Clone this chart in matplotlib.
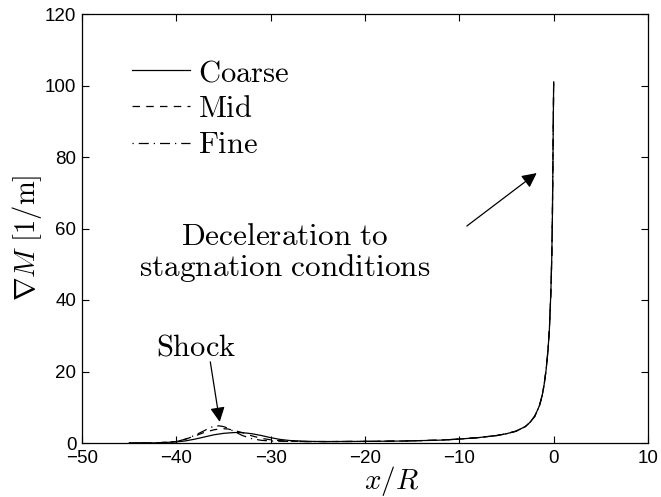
import matplotlib
matplotlib.use("Agg")
import matplotlib.pyplot as plt

plt.rcParams['mathtext.fontset'] = 'cm'
plt.rcParams['font.family'] = ['Liberation Sans', 'DejaVu Sans']

# Coarse grid
x_coarse = [-45, -42, -40, -39, -38, -37, -36, -35, -34, -33.5, -33, -32, -31, -30, -29, -28, -26, -24,
            -20, -16, -12, -10, -8, -6, -5, -4, -3, -2.5, -2, -1.5, -1.2, -1.0, -0.8, -0.6,
            -0.45, -0.3, -0.2, -0.14, -0.08, -0.04, 0.0]
y_coarse = [0.0, 0.05, 0.3, 0.6, 1.1, 1.7, 2.3, 2.7, 2.9, 2.95, 2.9, 2.6, 2.1, 1.5, 1.0, 0.7, 0.45, 0.4,
            0.45, 0.55, 0.8, 1.1, 1.5, 2.1, 2.6, 3.3, 4.6, 5.8, 7.5, 10.5, 13.5, 16.5, 20.5, 26,
            32, 42, 52, 62, 78, 90, 101]

# Mid grid
x_mid = [-45, -42, -40, -39, -38, -37, -36, -35.5, -35, -34.5, -34, -33, -32, -31, -30, -29, -28, -26, -24,
         -20, -16, -12, -10, -8, -6, -5, -4, -3, -2.5, -2, -1.5, -1.2, -1.0, -0.8, -0.6,
         -0.45, -0.3, -0.2, -0.14, -0.08, -0.04, 0.0]
y_mid = [0.0, 0.05, 0.4, 1.1, 2.0, 3.0, 3.7, 3.9, 4.0, 3.9, 3.6, 2.9, 2.0, 1.3, 0.9, 0.65, 0.5, 0.4, 0.4,
         0.45, 0.55, 0.8, 1.1, 1.5, 2.1, 2.6, 3.3, 4.6, 5.8, 7.5, 10.5, 13.5, 16.5, 20.5, 26,
         32, 42, 52, 62, 78, 90, 101]

# Fine grid
x_fine = [-45, -42, -40, -39, -38, -37, -36.5, -36, -35.5, -35, -34.5, -34, -33, -32, -31, -30, -28, -26, -24,
          -20, -16, -12, -10, -8, -6, -5, -4, -3, -2.5, -2, -1.5, -1.2, -1.0, -0.8, -0.6,
          -0.45, -0.3, -0.2, -0.14, -0.08, -0.04, 0.0]
y_fine = [0.0, 0.05, 0.4, 1.1, 2.2, 3.5, 4.2, 4.7, 4.8, 4.6, 4.1, 3.4, 2.1, 1.2, 0.75, 0.55, 0.45, 0.4, 0.4,
          0.45, 0.55, 0.8, 1.1, 1.5, 2.1, 2.6, 3.3, 4.6, 5.8, 7.5, 10.5, 13.5, 16.5, 20.5, 26,
          32, 42, 52, 62, 78, 90, 101]

labels = ['Coarse', 'Mid', 'Fine']
xticks = [-50, -40, -30, -20, -10, 0, 10]
yticks = [0, 20, 40, 60, 80, 100, 120]

W, H = 661, 497
fig = plt.figure(figsize=(6.61, 4.97), dpi=100)
ax = fig.add_axes([82/W, 1 - 443/H, (648-82)/W, (443-14)/H])

lw = 0.9
ax.plot(x_coarse, y_coarse, color='black', lw=lw, linestyle='-', label=r'$\mathrm{' + labels[0] + '}$')
ax.plot(x_mid, y_mid, color='black', lw=lw, linestyle=(0, (6, 5)), label=r'$\mathrm{' + labels[1] + '}$')
ax.plot(x_fine, y_fine, color='black', lw=lw, linestyle=(0, (1, 4, 8, 4)), label=r'$\mathrm{' + labels[2] + '}$')

ax.set_xlim(-50, 10)
ax.set_ylim(0, 120)
ax.set_xticks(xticks)
ax.set_yticks(yticks)
ax.set_xticklabels(['\u2212' + str(-t) if t < 0 else str(t) for t in xticks])
ax.tick_params(direction='in', top=True, right=True, labelsize=13.5, length=5, width=0.8)
ax.tick_params(axis='x', pad=5)
ax.tick_params(axis='y', pad=4)
for s in ax.spines.values():
    s.set_linewidth(0.9)

ax.set_xlabel(r'$x/R$', fontsize=21)
ax.xaxis.set_label_coords((392-82)/566, -(464-443)/429)
ax.set_ylabel(r'$\nabla M\ [\mathrm{1/m}]$', fontsize=20.5)
ax.yaxis.set_label_coords(-(82-44)/566, (443-238)/429)

leg = ax.legend(loc='upper left', bbox_to_anchor=(132/W, 1 - 58/H), bbox_transform=fig.transFigure,
                frameon=False, fontsize=22, handlelength=1.9, handletextpad=0.26, labelspacing=0.2,
                borderaxespad=0, borderpad=0)

ax.annotate('', xy=(-1.8, 75.5), xytext=(-9.2, 60.7),
            arrowprops=dict(arrowstyle='-|>', color='black', lw=0.9, mutation_scale=22, shrinkA=0, shrinkB=0))
ax.text(-28.5, 55.5, r'$\mathrm{Deceleration\ to}$', fontsize=22.5, ha='center', va='baseline')
ax.text(-28.5, 46.6, r'$\mathrm{stagnation\ conditions}$', fontsize=22.5, ha='center', va='baseline')

ax.annotate('', xy=(-35.4, 5.9), xytext=(-36.4, 22.7),
            arrowprops=dict(arrowstyle='-|>', color='black', lw=0.9, mutation_scale=22, shrinkA=0, shrinkB=0))
ax.text(-37.9, 24.6, r'$\mathrm{Shock}$', fontsize=22, ha='center', va='baseline')

fig.savefig('out.png', dpi=100)
